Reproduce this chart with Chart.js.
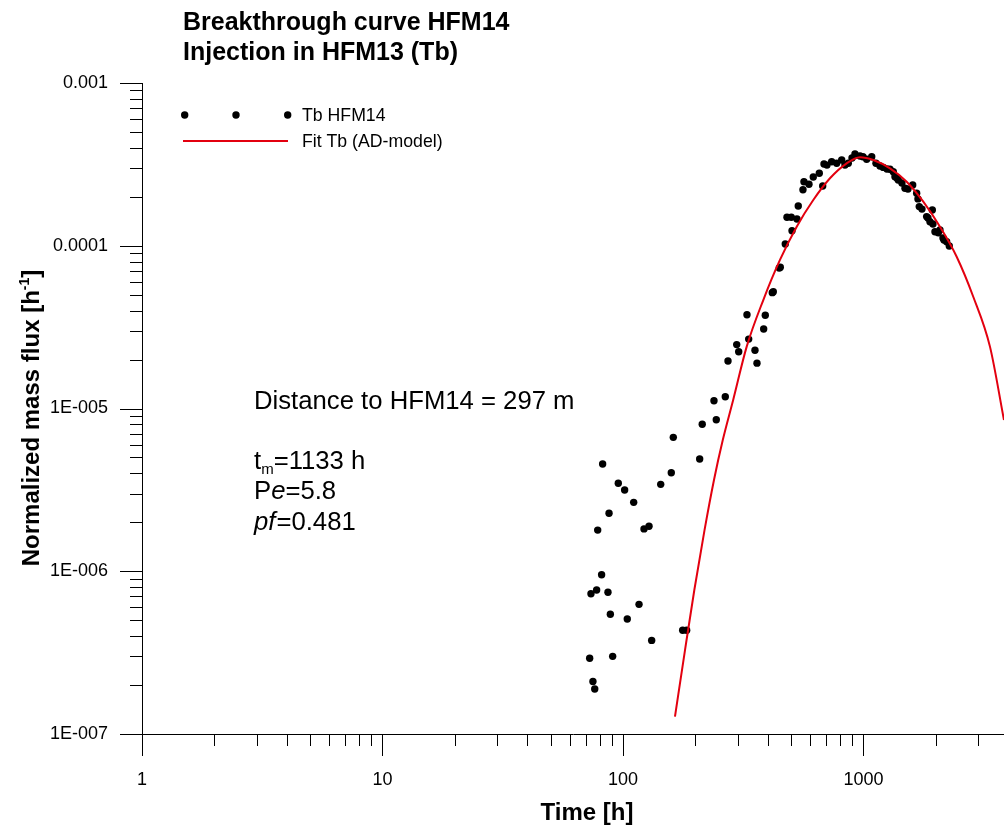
<!DOCTYPE html>
<html>
<head>
<meta charset="utf-8">
<script src="https://cdn.jsdelivr.net/npm/chart.js@4.4.1/dist/chart.umd.min.js"></script>
<style>
  body { margin: 0; background: #fff; overflow: hidden; }
  canvas { display: block; }
</style>
</head>
<body>
<canvas id="btc" width="1004" height="827"></canvas>
<script>
// measured points, Tb in HFM14
const tbTime = [
  82.3, 95.6, 101.6, 110.8, 87.5, 78.5, 122.3, 128.3, 81.5, 73.6,
  77.7, 86.6, 88.6, 116.6, 104.2, 131.6, 72.7, 90.6, 75.0, 76.3,
  177.1, 184.0, 143.5, 158.8, 161.9, 208.4, 213.6, 244.3, 239.0, 266.3,
  273.3, 302.8, 297.1, 333.2, 327.8, 353.9, 360.8, 384.6, 390.6, 417.7,
  421.7, 446.6, 451.0, 473.0, 504.5, 480.8, 501.0, 529.0, 535.6, 560.2,
  565.6, 593.4, 618.4, 655.0, 676.8, 685.3, 737.6, 773.8, 811.9, 864.8,
  921.9, 967.2, 1031, 1082, 1127, 1209, 1289, 1330, 1395, 1488,
  1602, 1664, 1706, 1831, 1933, 1983, 2080, 2161, 2274, 1171,
  1252, 1378, 1445, 1531, 1685, 1751, 1854, 1945, 2141, 995,
  1352, 1890, 2047, 2218, 837.6, 705, 896
];
const tbFlux = [
  4.56e-6, 3.47e-6, 3.16e-6, 2.65e-6, 2.27e-6, 1.79e-6, 1.82e-6, 1.89e-6, 9.52e-7, 7.28e-7,
  7.67e-7, 7.43e-7, 5.44e-7, 6.26e-7, 5.09e-7, 3.76e-7, 2.92e-7, 3.0e-7, 2.10e-7, 1.89e-7,
  4.34e-7, 4.34e-7, 3.42e-6, 4.03e-6, 6.65e-6, 4.89e-6, 8.0e-6, 8.53e-6, 1.117e-5, 1.18e-5,
  1.96e-5, 2.23e-5, 2.47e-5, 2.67e-5, 3.77e-5, 2.28e-5, 1.90e-5, 3.08e-5, 3.74e-5, 5.15e-5,
  5.22e-5, 7.30e-5, 7.37e-5, 1.025e-4, 1.237e-4, 1.496e-4, 1.496e-4, 1.46e-4, 1.754e-4, 2.21e-4,
  2.475e-4, 2.385e-4, 2.645e-4, 2.787e-4, 2.33e-4, 3.18e-4, 3.285e-4, 3.21e-4, 3.365e-4, 3.21e-4,
  3.66e-4, 3.56e-4, 3.40e-4, 3.525e-4, 3.21e-4, 3.03e-4, 2.95e-4, 2.85e-4, 2.535e-4, 2.255e-4,
  2.36e-4, 2.10e-4, 1.74e-4, 1.51e-4, 1.66e-4, 1.22e-4, 1.25e-4, 1.085e-4, 9.97e-5, 3.09e-4,
  2.96e-4, 2.61e-4, 2.43e-4, 2.23e-4, 1.94e-4, 1.68e-4, 1.48e-4, 1.36e-4, 1.116e-4, 3.525e-4,
  2.655e-4, 1.405e-4, 1.2e-4, 1.059e-4, 3.13e-4, 3.13e-4, 3.46e-4
];

// AD-model fit
const fitTime = [
  164.5, 181.1, 198.0, 218.3, 239.0, 260.0, 287.2, 326.9, 383.2,
  449.5, 527.6, 618.4, 725.6, 851.3, 967.2, 1098, 1289, 1512, 1773,
  2080, 2441, 2861, 3357, 3839
];
const fitFlux = [
  1.277e-7, 3.28e-7, 7.67e-7, 1.79e-6, 3.64e-6, 6.40e-6, 1.128e-5, 2.40e-5, 4.64e-5,
  8.18e-5, 1.309e-4, 1.91e-4, 2.598e-4, 3.21e-4, 3.497e-4, 3.365e-4, 2.99e-4, 2.475e-4, 1.866e-4,
  1.309e-4, 8.56e-5, 4.86e-5, 2.40e-5, 8.5e-6
];

const xTicks = [1, 10, 100, 1000];
const yTicks = [1e-7, 1e-6, 1e-5, 1e-4, 1e-3];
const yTickLabels = ["1E-007", "1E-006", "1E-005", "0.0001", "0.001"];

const FONT = "'Liberation Sans', Arial, sans-serif";
const RED = "#e3000f";

Chart.defaults.font.family = FONT;
Chart.defaults.color = "#000";

function toXY(xs, ys) {
  return xs.map((x, i) => ({ x: x, y: ys[i] }));
}

// minor/major tick marks, legend and text labels
const decorPlugin = {
  id: "decor",
  afterDraw(chart) {
    const ctx = chart.ctx;
    const xs = chart.scales.x;
    const ys = chart.scales.y;
    const area = chart.chartArea;

    ctx.save();
    ctx.strokeStyle = "#000";
    ctx.lineWidth = 1;

    // x ticks
    for (let k = 0; k <= 3; k++) {
      for (let m = 1; m <= 9; m++) {
        const v = m * Math.pow(10, k);
        if (v > xs.max) continue;
        const px = Math.round(xs.getPixelForValue(v)) + 0.5;
        const len = m === 1 ? 22 : 12;
        ctx.beginPath();
        ctx.moveTo(px, area.bottom);
        ctx.lineTo(px, area.bottom + len);
        ctx.stroke();
      }
    }
    // y ticks
    for (let k = -7; k <= -3; k++) {
      for (let m = 1; m <= 9; m++) {
        const v = m * Math.pow(10, k);
        if (v > ys.max * 1.0001) continue;
        const py = Math.round(ys.getPixelForValue(v)) + 0.5;
        const len = m === 1 ? 22 : 12;
        ctx.beginPath();
        ctx.moveTo(area.left - len, py);
        ctx.lineTo(area.left, py);
        ctx.stroke();
      }
    }

    ctx.fillStyle = "#000";
    ctx.textBaseline = "alphabetic";
    ctx.textAlign = "left";

    // title
    ctx.font = "bold 25px " + FONT;
    ctx.fillText("Breakthrough curve HFM14", 183, 30);
    ctx.fillText("Injection in HFM13 (Tb)", 183, 60);

    // legend
    ctx.beginPath();
    [184.7, 236, 287.7].forEach(function (lx) {
      ctx.moveTo(lx + 3.7, 115);
      ctx.arc(lx, 115, 3.7, 0, Math.PI * 2);
    });
    ctx.fill();
    ctx.strokeStyle = RED;
    ctx.lineWidth = 2;
    ctx.beginPath();
    ctx.moveTo(183, 141);
    ctx.lineTo(288, 141);
    ctx.stroke();
    ctx.font = "17.7px " + FONT;
    ctx.fillText("Tb HFM14", 302, 121);
    ctx.fillText("Fit Tb (AD-model)", 302, 147);

    // annotation
    let x;
    ctx.font = "25.7px " + FONT;
    ctx.fillText("Distance to HFM14 = 297 m", 254, 409);

    x = 254;
    ctx.fillText("t", x, 469);
    x += ctx.measureText("t").width;
    ctx.font = "15px " + FONT;
    ctx.fillText("m", x, 474);
    x += ctx.measureText("m").width;
    ctx.font = "25.7px " + FONT;
    ctx.fillText("=1133 h", x, 469);

    x = 254;
    ctx.fillText("P", x, 499);
    x += ctx.measureText("P").width;
    ctx.font = "italic 25.7px " + FONT;
    ctx.fillText("e", x, 499);
    x += ctx.measureText("e").width;
    ctx.font = "25.7px " + FONT;
    ctx.fillText("=5.8", x, 499);

    x = 254;
    ctx.font = "italic 25.7px " + FONT;
    ctx.fillText("pf", x, 530);
    x += ctx.measureText("pf").width + 1;
    ctx.font = "25.7px " + FONT;
    ctx.fillText("=0.481", x, 530);

    // axis titles
    ctx.font = "bold 24px " + FONT;
    ctx.textAlign = "center";
    ctx.fillText("Time [h]", 587, 820);

    ctx.translate(39, 418);
    ctx.rotate(-Math.PI / 2);
    ctx.textAlign = "left";
    const p1 = "Normalized mass flux [h";
    const p3 = "]";
    ctx.font = "bold 24px " + FONT;
    const w1 = ctx.measureText(p1).width;
    const w3 = ctx.measureText(p3).width;
    ctx.font = "bold 14px " + FONT;
    const w2 = ctx.measureText("-1").width;
    let sx = -(w1 + w2 + w3) / 2;
    ctx.font = "bold 24px " + FONT;
    ctx.fillText(p1, sx, 0);
    sx += w1;
    ctx.font = "bold 14px " + FONT;
    ctx.fillText("-1", sx, -10);
    sx += w2;
    ctx.font = "bold 24px " + FONT;
    ctx.fillText(p3, sx, 0);

    ctx.restore();
  },
};

const ctx = document.getElementById("btc").getContext("2d");

new Chart(ctx, {
  type: "scatter",
  data: {
    datasets: [
      {
        type: "line",
        label: "Fit Tb (AD-model)",
        data: toXY(fitTime, fitFlux),
        borderColor: RED,
        borderWidth: 2,
        pointRadius: 0,
        fill: false,
        cubicInterpolationMode: "monotone",
      },
      {
        label: "Tb HFM14",
        data: toXY(tbTime, tbFlux),
        backgroundColor: "#000",
        borderColor: "#000",
        pointRadius: 3.7,
        pointBorderWidth: 0,
      },
    ],
  },
  options: {
    responsive: false,
    animation: false,
    layout: { autoPadding: false, padding: { top: 83, left: 0, right: 0, bottom: 0 } },
    scales: {
      x: {
        type: "logarithmic",
        min: 1,
        max: 3840,
        grid: { display: false },
        border: { display: true, color: "#000", width: 1 },
        afterBuildTicks: function (scale) {
          scale.ticks = xTicks.map((v) => ({ value: v }));
        },
        afterFit: function (scale) {
          scale.height = 93;
          scale.paddingLeft = 0;
          scale.paddingRight = 0;
        },
        ticks: {
          font: { size: 18 },
          padding: 27,
          maxRotation: 0,
          callback: function (value) {
            return String(value);
          },
        },
      },
      y: {
        type: "logarithmic",
        min: 1e-7,
        max: 1e-3,
        grid: { display: false },
        border: { display: true, color: "#000", width: 1 },
        afterBuildTicks: function (scale) {
          scale.ticks = yTicks.map((v) => ({ value: v }));
        },
        afterFit: function (scale) {
          scale.width = 142;
        },
        ticks: {
          font: { size: 18 },
          padding: 26,
          callback: function (value) {
            const i = yTicks.findIndex((t) => Math.abs(t - value) / t < 1e-6);
            return i >= 0 ? yTickLabels[i] : "";
          },
        },
      },
    },
    plugins: {
      legend: { display: false },
      tooltip: { enabled: false },
    },
  },
  plugins: [decorPlugin],
});
</script>
</body>
</html>
